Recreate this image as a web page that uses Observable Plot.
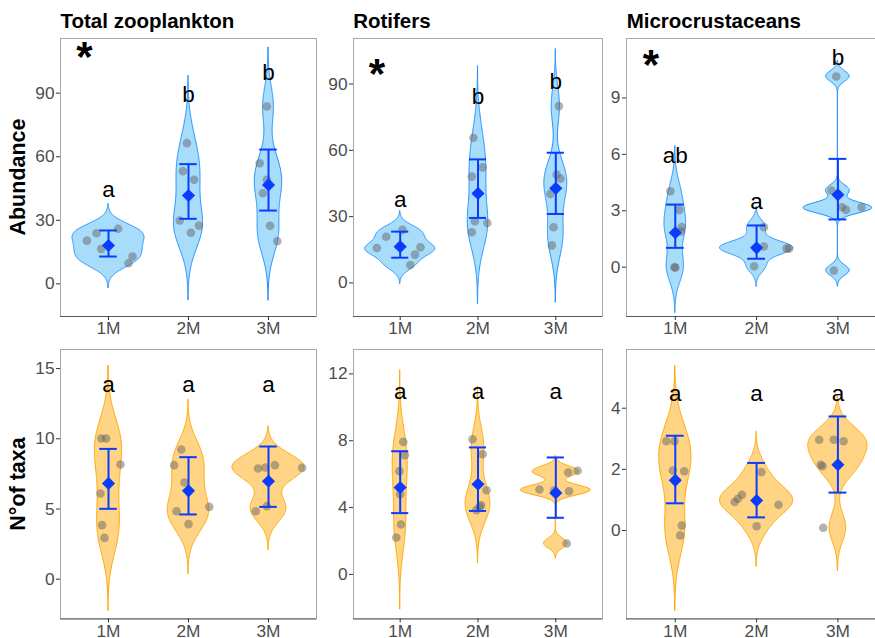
<!DOCTYPE html>
<html>
<head>
<meta charset="utf-8">
<script src="https://cdn.jsdelivr.net/npm/d3@7"></script>
<script src="https://cdn.jsdelivr.net/npm/@observablehq/plot@0.6"></script>
<style>
  html, body { margin: 0; padding: 0; background: #fff; overflow: hidden; }
  #chart { position: relative; width: 875px; height: 638px; overflow: hidden; font-family: "Liberation Sans", Arial, sans-serif; }
  .panel { position: absolute; }
  .panel svg { overflow: visible; max-width: none !important; }
  .title { position: absolute; font-weight: bold; font-size: 20.5px; line-height: 20px; color: #000; white-space: nowrap; }
  .ytitle { position: absolute; font-weight: bold; font-size: 21.5px; line-height: 21.5px; color: #000; white-space: nowrap;
            transform: translate(-50%, -50%) rotate(-90deg); }
</style>
</head>
<body>
<div id="chart"></div>
<script>
// ---------- data ----------
const months = ["1M", "2M", "3M"];
const group = [1,1,1,1,1,1, 2,2,2,2,2,2, 3,3,3,3,3,3];
const panelTitles = ["Total zooplankton", "Rotifers", "Microcrustaceans"];
const rowTitles = ["Abundance", "N°of taxa"];

// Abundance – Total zooplankton
const abTotal       = [20.4, 23.9, 16.5, 26.0, 12.9, 9.7,  66.4, 53.2, 49.1, 29.9, 24.1, 27.5,  83.7, 56.9, 49.1, 42.8, 27.4, 20.1];
const abTotalJitter = [-0.27, -0.15, -0.09, 0.12, 0.30, 0.25,  -0.02, -0.07, 0.07, -0.11, 0.03, 0.13,  -0.02, -0.11, -0.02, -0.07, 0.02, 0.11];
const abTotalBw     = [3.9, 10.6, 9.3];   // violin kernel bandwidth per month
const abTotalMean   = [18.1, 41.7, 46.7];
const abTotalLow    = [12.9, 30.7, 34.6];
const abTotalHigh   = [25.2, 56.5, 63.4];
const abTotalLetters = ["a", "b", "b"];
const abTotalLetterY = [40.9, 85.7, 96.0];

// Abundance – Rotifers
const abRot       = [15.8, 20.9, 24.0, 16.1, 12.8, 8.1,  65.7, 48.1, 52.3, 27.9, 22.9, 27.1,  80.0, 49.0, 47.2, 40.3, 25.2, 17.0];
const abRotJitter = [-0.30, -0.18, 0.03, 0.26, 0.19, 0.13,  -0.06, -0.08, 0.06, -0.04, -0.08, 0.12,  0.04, 0.01, 0.06, -0.07, -0.03, -0.05];
const abRotBw     = [2.83, 10.8, 8.6];
const abRotMean   = [16.4, 40.5, 42.8];
const abRotLow    = [11.4, 29.4, 31.2];
const abRotHigh   = [23.2, 55.9, 58.9];
const abRotLetters = ["a", "b", "b"];
const abRotLetterY = [34.2, 81.0, 87.7];

// Abundance – Microcrustaceans
const abMicro       = [4.04, 3.05, 2.13, 1.90, -0.02, 0.0,  2.13, 1.10, 0.98, 1.0, 0.05, 1.0,  10.14, 4.08, 3.05, 3.19, 3.19, -0.18];
const abMicroJitter = [-0.06, 0.05, 0.08, 0.07, 0.0, -0.01,  0.09, 0.09, 0.40, 0.37, -0.03, 0.0,  -0.02, -0.08, 0.10, 0.05, 0.29, -0.05];
const abMicroBw     = [0.8, 0.36, 0.28];
const abMicroMean   = [1.83, 1.03, 3.85];
const abMicroLow    = [1.03, 0.45, 2.54];
const abMicroHigh   = [3.33, 2.22, 5.76];
const abMicroLetters = ["ab", "a", "b"];
const abMicroLetterY = [5.53, 3.10, 10.76];

// N° of taxa – Total zooplankton
const txTotal       = [10.02, 10.02, 8.17, 6.10, 3.85, 2.94,  9.24, 8.12, 6.89, 4.84, 3.92, 5.15,  7.88, 7.95, 8.12, 7.93, 4.84, 5.2];
const txTotalJitter = [-0.09, -0.03, 0.15, -0.10, -0.08, -0.05,  -0.09, -0.18, -0.05, -0.15, 0.0, 0.26,  -0.13, -0.04, 0.08, 0.42, -0.16, -0.02];
const txTotalBw     = [1.73, 1.18, 0.92];
const txTotalMean   = [6.82, 6.29, 6.98];
const txTotalLow    = [5.01, 4.61, 5.15];
const txTotalHigh   = [9.28, 8.69, 9.45];
const txTotalLetters = ["a", "a", "a"];
const txTotalLetterY = [13.34, 13.34, 13.34];

// N° of taxa – Rotifers
const txRot       = [7.93, 7.14, 6.18, 2.99, 2.21, 4.8,  8.09, 7.19, 5.04, 4.14, 3.85, 4.05,  5.08, 4.98, 6.1, 6.2, 1.85, 5.04];
const txRotJitter = [0.04, 0.06, -0.01, 0.01, -0.05, 0.0,  -0.07, 0.06, 0.11, 0.04, -0.02, 0.02,  -0.21, 0.17, 0.16, 0.28, 0.14, -0.02];
const txRotBw     = [1.43, 1.05, 0.3];
const txRotMean   = [5.20, 5.40, 4.88];
const txRotLow    = [3.67, 3.80, 3.39];
const txRotHigh   = [7.37, 7.60, 7.00];
const txRotLetters = ["a", "a", "a"];
const txRotLetterY = [10.48, 10.48, 10.48];

// N° of taxa – Microcrustaceans
const txMicro       = [2.92, 2.92, 1.96, 1.94, 0.16, -0.16,  0.93, 1.04, 1.17, 1.91, 0.84, 0.14,  2.97, 2.97, 2.92, 2.15, 2.10, 0.09];
const txMicroJitter = [-0.11, -0.01, -0.03, 0.11, 0.08, 0.06,  -0.27, -0.23, -0.18, 0.06, 0.27, 0.0,  -0.23, -0.05, 0.07, -0.21, -0.19, -0.18];
const txMicroBw     = [0.82, 0.44, 0.47];
const txMicroMean   = [1.64, 0.98, 2.15];
const txMicroLow    = [0.89, 0.43, 1.24];
const txMicroHigh   = [3.10, 2.21, 3.73];
const txMicroLetters = ["a", "a", "a"];
const txMicroLetterY = [4.23, 4.23, 4.23];

// significance asterisks (top row)
const starY = [109.3, 96.8, 11.0];

// ---------- layout / style ----------
const panels = [
  {row: 0, col: 0, vals: abTotal, jit: abTotalJitter, bw: abTotalBw, mean: abTotalMean, lo: abTotalLow, hi: abTotalHigh, letters: abTotalLetters, letterY: abTotalLetterY, star: starY[0], yDomain: [-15.4, 115.8], yTicks: [0, 30, 60, 90]},
  {row: 0, col: 1, vals: abRot, jit: abRotJitter, bw: abRotBw, mean: abRotMean, lo: abRotLow, hi: abRotHigh, letters: abRotLetters, letterY: abRotLetterY, star: starY[1], yDomain: [-15.2, 110.6], yTicks: [0, 30, 60, 90]},
  {row: 0, col: 2, vals: abMicro, jit: abMicroJitter, bw: abMicroBw, mean: abMicroMean, lo: abMicroLow, hi: abMicroHigh, letters: abMicroLetters, letterY: abMicroLetterY, star: starY[2], yDomain: [-2.62, 12.16], yTicks: [0, 3, 6, 9]},
  {row: 1, col: 0, vals: txTotal, jit: txTotalJitter, bw: txTotalBw, mean: txTotalMean, lo: txTotalLow, hi: txTotalHigh, letters: txTotalLetters, letterY: txTotalLetterY, star: null, yDomain: [-2.83, 16.36], yTicks: [0, 5, 10, 15]},
  {row: 1, col: 1, vals: txRot, jit: txRotJitter, bw: txRotBw, mean: txRotMean, lo: txRotLow, hi: txRotHigh, letters: txRotLetters, letterY: txRotLetterY, star: null, yDomain: [-2.66, 13.46], yTicks: [0, 4, 8, 12]},
  {row: 1, col: 2, vals: txMicro, jit: txMicroJitter, bw: txMicroBw, mean: txMicroMean, lo: txMicroLow, hi: txMicroHigh, letters: txMicroLetters, letterY: txMicroLetterY, star: null, yDomain: [-2.89, 5.92], yTicks: [0, 2, 4]}
];

const colGeo = [
  {frameLeft: 60, frameW: 256, marginLeft: 60},
  {frameLeft: 352.7, frameW: 249, marginLeft: 40},
  {frameLeft: 626.2, frameW: 260.2, marginLeft: 30}
];
const rowGeo = [
  {frameTop: 38, frameH: 278},
  {frameTop: 349.3, frameH: 269.4}
];
const rowStyle = [
  {fill: "#87CEFA", fillOpacity: 0.72, stroke: "#1E90FF"},
  {fill: "#FFA500", fillOpacity: 0.48, stroke: "#FFA500"}
];
const blue = "#0a3cff";
const marginTop = 10, marginBottom = 26, marginRight = 2;

// ---------- density (Gaussian KDE over range ± 3 bandwidths, as geom_violin(trim = FALSE)) ----------
function kde(a, bw, n = 256) {
  const [mn, mx] = d3.extent(a);
  const y0 = mn - 3 * bw, y1 = mx + 3 * bw;
  const out = [];
  for (let i = 0; i < n; i++) {
    const y = y0 + (y1 - y0) * i / (n - 1);
    let s = 0;
    for (const v of a) { const u = (y - v) / bw; s += Math.exp(-0.5 * u * u); }
    out.push({y, d: s / (a.length * bw * Math.sqrt(2 * Math.PI))});
  }
  return out;
}

const chart = document.getElementById("chart");
const font = "'Liberation Sans', Arial, Helvetica, sans-serif";

for (const p of panels) {
  const cg = colGeo[p.col], rg = rowGeo[p.row], st = rowStyle[p.row];
  const width = cg.marginLeft + cg.frameW + marginRight;
  const height = marginTop + rg.frameH + marginBottom;

  const pts = p.vals.map((v, i) => ({g: group[i], v, j: p.jit[i]}));
  const dens = [1, 2, 3].map(g => ({g, d: kde(pts.filter(q => q.g === g).map(q => q.v), p.bw[g - 1])}));
  const maxD = d3.max(dens, G => d3.max(G.d, q => q.d));
  const violin = dens.flatMap(G => G.d.map(q => ({g: G.g, y: q.y, x1: G.g - q.d / maxD * 0.45, x2: G.g + q.d / maxD * 0.45})));
  const stats = [0, 1, 2].map(i => ({g: i + 1, mean: p.mean[i], lo: p.lo[i], hi: p.hi[i], letter: p.letters[i], ly: p.letterY[i]}));

  const marks = [
    Plot.areaX(violin, {y: "y", x1: "x1", x2: "x2", z: "g", fill: st.fill, fillOpacity: st.fillOpacity, stroke: st.stroke, strokeWidth: 1, curve: "linear"}),
    Plot.dot(pts, {x: d => d.g + d.j, y: "v", r: 4.3, fill: "#666", fillOpacity: 0.5, stroke: null}),
    Plot.ruleX(stats, {x: "g", y1: "lo", y2: "hi", stroke: blue, strokeWidth: 2}),
    Plot.ruleY(stats, {y: "lo", x1: d => d.g - 0.11, x2: d => d.g + 0.11, stroke: blue, strokeWidth: 2}),
    Plot.ruleY(stats, {y: "hi", x1: d => d.g - 0.11, x2: d => d.g + 0.11, stroke: blue, strokeWidth: 2}),
    Plot.dot(stats, {x: "g", y: "mean", symbol: "diamond2", r: 5.9, fill: blue, stroke: null}),
    Plot.text(stats, {x: "g", y: "ly", text: "letter", fontSize: 22.5, fill: "#000", lineAnchor: "bottom"}),
    Plot.frame({stroke: "#a8a8a8"}),
    Plot.ruleY([p.yDomain[0]], {stroke: "#5a5a5a"}),
    Plot.axisX({ticks: [1, 2, 3], tickFormat: d => months[d - 1], tickSize: 4, tickPadding: 1.5, fontSize: 17.3, label: null, stroke: "#333"}),
    Plot.axisY({ticks: p.yTicks, tickSize: 4, tickPadding: 2, fontSize: 17.3, label: null, stroke: "#333"})
  ];
  if (p.star != null) {
    marks.push(Plot.text([p.star], {x: () => 0.7, y: d => d, text: () => "*", fontSize: 42, fontWeight: "bold", fill: "#000", lineAnchor: "bottom", dy: 19}));
  }

  const svg = Plot.plot({
    width, height, marginLeft: cg.marginLeft, marginRight, marginTop, marginBottom,
    style: {fontFamily: font, color: "#4d4d4d", background: "transparent", overflow: "visible", maxWidth: "none"},
    x: {type: "linear", domain: [0.4, 3.6]},
    y: {domain: p.yDomain},
    marks
  });
  const div = document.createElement("div");
  div.className = "panel";
  div.style.left = (cg.frameLeft - cg.marginLeft) + "px";
  div.style.top = (rg.frameTop - marginTop) + "px";
  div.style.width = width + "px";
  div.style.height = height + "px";
  div.appendChild(svg);
  chart.appendChild(div);
}

// panel titles
panelTitles.forEach((t, i) => {
  const d = document.createElement("div");
  d.className = "title";
  d.textContent = t;
  d.style.left = (colGeo[i].frameLeft + 0.5) + "px";
  d.style.top = "11px";
  chart.appendChild(d);
});
// row (y-axis) titles
rowTitles.forEach((t, r) => {
  const d = document.createElement("div");
  d.className = "ytitle";
  d.textContent = t;
  d.style.left = "19px";
  d.style.top = (rowGeo[r].frameTop + rowGeo[r].frameH / 2) + "px";
  chart.appendChild(d);
});
</script>
</body>
</html>
